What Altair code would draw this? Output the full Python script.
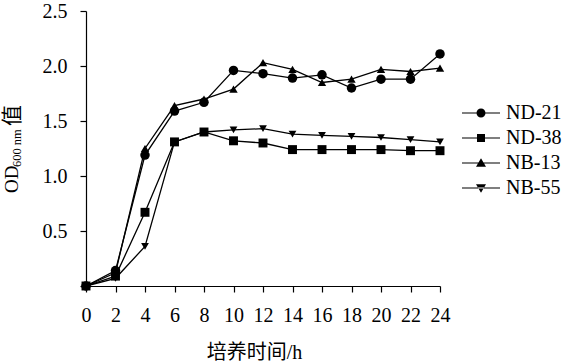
import altair as alt
import pandas as pd

# ---- data ----
hours = [0, 2, 4, 6, 8, 10, 12, 14, 16, 18, 20, 22, 24]
series_names = ["ND-21", "ND-38", "NB-13", "NB-55"]
nd21 = [0.0, 0.14, 1.19, 1.59, 1.67, 1.96, 1.93, 1.89, 1.92, 1.80, 1.88, 1.88, 2.11]
nd38 = [0.0, 0.09, 0.67, 1.31, 1.40, 1.32, 1.30, 1.24, 1.24, 1.24, 1.24, 1.23, 1.23]
nb13 = [0.0, 0.12, 1.25, 1.64, 1.70, 1.79, 2.03, 1.97, 1.85, 1.88, 1.97, 1.95, 1.98]
nb55 = [0.0, 0.07, 0.36, 1.31, 1.40, 1.42, 1.43, 1.38, 1.37, 1.36, 1.35, 1.33, 1.31]
y_ticks = [0, 0.5, 1.0, 1.5, 2.0, 2.5]
x_title = "培养时间/h"
y_title_parts = ["OD", "600 nm", "值"]

rows = []
for name, vals in zip(series_names, [nd21, nd38, nb13, nb55]):
    for t, v in zip(hours, vals):
        rows.append({"t": t, "value": v, "series": name})
df = pd.DataFrame(rows)

SERIF = "'Liberation Serif', serif"
CJK = "'Liberation Serif', 'Noto Sans CJK SC', serif"

x_axis = alt.Axis(values=hours, tickCount=13, title=x_title, format="d",
                  titleFont=CJK, titleFontSize=20, titleFontWeight="normal",
                  titleColor="black", titlePadding=17, titleX=168,
                  labelFont=SERIF, labelFontSize=20, labelColor="black",
                  labelPadding=13, tickSize=6, tickColor="black",
                  domainColor="black", grid=False, labelFlush=False,
                  labelOverlap=False)
y_axis = alt.Axis(values=y_ticks, title=None,
                  labelExpr="datum.value == 0 ? '' : format(datum.value, '.1f')",
                  labelFont=SERIF, labelFontSize=20, labelColor="black",
                  labelPadding=13, tickSize=6, tickColor="black",
                  domainColor="black", grid=False, labelFlush=False)
x_scale = alt.Scale(domain=[0, 24], nice=False)
y_scale = alt.Scale(domain=[0, 2.5], nice=False)

lines = alt.Chart(df).mark_line(color="black", strokeWidth=1.3).encode(
    x=alt.X("t:Q", scale=x_scale, axis=x_axis),
    y=alt.Y("value:Q", scale=y_scale, axis=y_axis),
    detail="series:N")

points = alt.Chart(df).mark_point(filled=True, color="black", opacity=1).encode(
    x=alt.X("t:Q", scale=x_scale, axis=x_axis),
    y=alt.Y("value:Q", scale=y_scale, axis=y_axis),
    shape=alt.Shape("series:N",
                    scale=alt.Scale(domain=series_names,
                                    range=["circle", "square", "triangle-up", "triangle-down"]),
                    legend=None),
    size=alt.Size("series:N",
                  scale=alt.Scale(domain=series_names, range=[90, 60, 105, 105]),
                  legend=None),
)

# legend symbols: a thin bar (the line) with the marker in its middle
legend_paths = [
    "M-3.8,-0.1L3.8,-0.1L3.8,0.1L-3.8,0.1ZM0.9,0A0.9,0.9,0,1,1,-0.9,0A0.9,0.9,0,1,1,0.9,0Z",
    "M-3.8,-0.1L3.8,-0.1L3.8,0.1L-3.8,0.1ZM-0.8,-0.8L0.8,-0.8L0.8,0.8L-0.8,0.8Z",
    "M-3.8,-0.1L3.8,-0.1L3.8,0.1L-3.8,0.1ZM0,-0.95L1,0.75L-1,0.75Z",
    "M-3.8,-0.1L3.8,-0.1L3.8,0.1L-3.8,0.1ZM0,0.95L1,-0.75L-1,-0.75Z",
]
legend_layer = alt.Chart(df).transform_filter("datum.t < 0").mark_point(
    filled=True, color="black", size=100, opacity=1
).encode(
    shape=alt.Shape("series:N",
                    scale=alt.Scale(domain=series_names, range=legend_paths),
                    legend=alt.Legend(title=None, orient="none", legendX=385, legendY=92,
                                      labelFont=SERIF, labelFontSize=20, labelColor="black",
                                      labelOffset=15, symbolSize=100, symbolFillColor="black",
                                      symbolOpacity=1, rowPadding=5, padding=0)),
)

# y-axis title with subscript, built from three rotated texts (one row each)
def title_part(text, font, size, xpos, ypos):
    return alt.Chart(pd.DataFrame({"label": [text]})).mark_text(
        angle=270, align="left", baseline="alphabetic",
        font=font, fontSize=size, color="black"
    ).encode(x=alt.value(xpos), y=alt.value(ypos), text="label:N")

ytitle_od = title_part(y_title_parts[0], SERIF, 19, -68, 182)
ytitle_sub = title_part(y_title_parts[1], SERIF, 12.5, -65, 156)
ytitle_zhi = title_part(y_title_parts[2], CJK, 21, -67, 115)

chart = alt.layer(lines, points, legend_layer, ytitle_od, ytitle_sub, ytitle_zhi).resolve_scale(
    shape="independent", size="independent"
).properties(
    width=354, height=275,
    autosize=alt.AutoSizeParams(type="none"),
    padding={"left": 86, "top": 11, "right": 132, "bottom": 78},
    background="white",
).configure_view(stroke=None).configure_axis(
    domainWidth=1.2, tickWidth=1.2
).configure_axisX(labelOverlap=False)

chart.save("out.html", embed_options={"renderer": "svg", "actions": False})
